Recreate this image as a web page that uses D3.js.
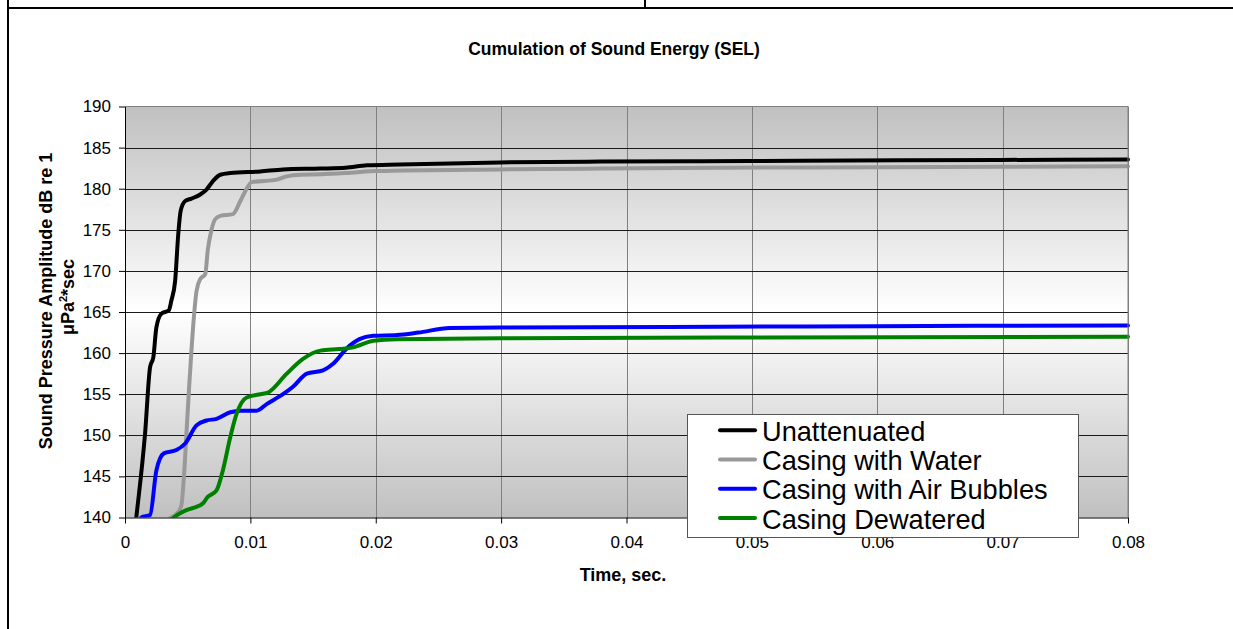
<!DOCTYPE html>
<html>
<head>
<meta charset="utf-8">
<script src="https://cdn.jsdelivr.net/npm/d3@7"></script>
<style>
  html, body { margin: 0; padding: 0; background: #fff; }
  svg { display: block; font-family: "Liberation Sans", Arial, sans-serif; }
</style>
</head>
<body>
<svg id="chart" width="1233" height="629"></svg>
<script>
// ---------- DATA ----------
const chartTitle = "Cumulation of Sound Energy (SEL)";
const xTitle = "Time, sec.";
const yTitleLine1 = "Sound Pressure Amplitude dB re 1";
const seriesNames = ["Unattenuated", "Casing with Water", "Casing with Air Bubbles", "Casing Dewatered"];
const seriesColors = ["#000000", "#999999", "#0000ff", "#008000"];
const xTicks = [0, 0.01, 0.02, 0.03, 0.04, 0.05, 0.06, 0.07, 0.08];
const yTicks = [140, 145, 150, 155, 160, 165, 170, 175, 180, 185, 190];

const unattenuatedT = [0.0006, 0.0009, 0.0016, 0.0020, 0.00226, 0.0025, 0.0029, 0.0035, 0.0037, 0.0040, 0.00425, 0.00444, 0.0048, 0.0053, 0.0060, 0.0065, 0.0070, 0.0076, 0.0084, 0.0108, 0.0126, 0.0156, 0.0176, 0.0193, 0.0219, 0.0299, 0.0379, 0.0459, 0.0538, 0.0618, 0.0698, 0.0800];
const unattenuatedV = [136.0, 140.0, 150.2, 158.3, 159.5, 163.1, 164.8, 165.2, 166.4, 168.8, 174.5, 177.3, 178.5, 178.8, 179.3, 179.9, 180.9, 181.7, 181.9, 182.1, 182.35, 182.45, 182.55, 182.85, 182.95, 183.2, 183.3, 183.35, 183.4, 183.45, 183.5, 183.55];

const waterT = [0.0030, 0.0035, 0.0042, 0.0045, 0.0047, 0.0049, 0.0051, 0.0053, 0.0055, 0.0057, 0.0060, 0.0064, 0.0066, 0.0069, 0.0072, 0.0076, 0.0086, 0.0092, 0.0097, 0.0101, 0.0121, 0.0129, 0.0140, 0.0156, 0.0180, 0.0200, 0.0299, 0.0379, 0.0475, 0.0600, 0.0700, 0.0800];
const waterV = [138.8, 139.8, 140.6, 141.5, 145.0, 150.2, 155.5, 160.3, 164.5, 167.5, 169.0, 169.6, 172.5, 175.0, 176.3, 176.7, 176.9, 178.5, 180.0, 180.8, 181.1, 181.5, 181.7, 181.75, 181.95, 182.15, 182.35, 182.45, 182.55, 182.62, 182.68, 182.72];

const bubblesT = [0.0010, 0.0013, 0.0020, 0.0025, 0.0031, 0.0041, 0.0048, 0.0057, 0.0065, 0.0073, 0.0084, 0.0092, 0.0105, 0.0113, 0.0126, 0.0134, 0.0145, 0.0158, 0.0166, 0.0177, 0.0187, 0.0198, 0.0217, 0.0234, 0.0259, 0.0299, 0.0475, 0.0600, 0.0800];
const bubblesV = [138.5, 140.0, 140.3, 145.7, 147.8, 148.2, 149.0, 151.2, 151.8, 152.0, 152.8, 153.0, 153.0, 153.8, 155.0, 155.9, 157.5, 157.9, 158.7, 160.6, 161.7, 162.1, 162.2, 162.5, 163.05, 163.1, 163.2, 163.28, 163.35];

const dewateredT = [0.0036, 0.0039, 0.0049, 0.0057, 0.0062, 0.0066, 0.0073, 0.0078, 0.0084, 0.0089, 0.0097, 0.0108, 0.0114, 0.0129, 0.0142, 0.0156, 0.0171, 0.0182, 0.0198, 0.0217, 0.0300, 0.0475, 0.0800];
const dewateredV = [139.5, 140.0, 140.9, 141.3, 141.7, 142.5, 143.3, 145.7, 149.8, 152.6, 154.6, 155.0, 155.2, 157.5, 159.3, 160.3, 160.5, 160.7, 161.5, 161.7, 161.8, 161.9, 162.0];

const seriesT = [unattenuatedT, waterT, bubblesT, dewateredT];
const seriesV = [unattenuatedV, waterV, bubblesV, dewateredV];

// ---------- LAYOUT ----------
const svg = d3.select("#chart");
const plot = { left: 125, right: 1128, top: 106.5, bottom: 517.5 };

const x = d3.scaleLinear().domain([0, 0.08]).range([plot.left, plot.right]);
const y = d3.scaleLinear().domain([140, 190]).range([plot.bottom, plot.top]);

// outer frame
svg.append("line").attr("x1", 8).attr("x2", 1233).attr("y1", 8).attr("y2", 8).attr("stroke", "#000").attr("stroke-width", 2);
svg.append("line").attr("x1", 8).attr("x2", 8).attr("y1", 0).attr("y2", 629).attr("stroke", "#000").attr("stroke-width", 2);
svg.append("line").attr("x1", 645).attr("x2", 645).attr("y1", 0).attr("y2", 8).attr("stroke", "#000").attr("stroke-width", 2);

// background gradient
const defs = svg.append("defs");
const grad = defs.append("linearGradient").attr("id", "bg").attr("x1", 0).attr("x2", 0).attr("y1", 0).attr("y2", 1);
grad.append("stop").attr("offset", "0%").attr("stop-color", "#c0c0c0");
grad.append("stop").attr("offset", "50%").attr("stop-color", "#ffffff");
grad.append("stop").attr("offset", "100%").attr("stop-color", "#c0c0c0");
defs.append("clipPath").attr("id", "clip").append("rect")
  .attr("x", plot.left).attr("y", plot.top - 5).attr("width", plot.right - plot.left + 5).attr("height", plot.bottom - plot.top + 5);

svg.append("rect").attr("x", plot.left).attr("y", plot.top)
  .attr("width", plot.right - plot.left).attr("height", plot.bottom - plot.top)
  .attr("fill", "url(#bg)");

// vertical gridlines
svg.append("g").selectAll("line").data(xTicks.slice(1)).join("line")
  .attr("x1", d => Math.round(x(d)) + 0.5).attr("x2", d => Math.round(x(d)) + 0.5)
  .attr("y1", plot.top).attr("y2", plot.bottom)
  .attr("stroke", "#808080").attr("stroke-width", 1);
// horizontal gridlines
svg.append("g").selectAll("line").data(yTicks.slice(1, -1)).join("line")
  .attr("x1", plot.left).attr("x2", plot.right)
  .attr("y1", d => Math.round(y(d)) + 0.5).attr("y2", d => Math.round(y(d)) + 0.5)
  .attr("stroke", "#1a1a1a").attr("stroke-width", 1);
// top border
svg.append("line").attr("x1", plot.left).attr("x2", plot.right).attr("y1", plot.top).attr("y2", plot.top)
  .attr("stroke", "#808080").attr("stroke-width", 1);

// series lines
const line = d3.line().x(d => x(d[0])).y(d => y(d[1])).curve(d3.curveMonotoneX);
const lg = svg.append("g").attr("clip-path", "url(#clip)");
seriesNames.forEach((name, i) => {
  const pts = seriesT[i].map((t, j) => [t, seriesV[i][j]]);
  lg.append("path").datum(pts).attr("d", line)
    .attr("fill", "none").attr("stroke", seriesColors[i]).attr("stroke-width", 4)
    .attr("stroke-linejoin", "round").attr("stroke-linecap", "round");
});

// axes
const yAxis = d3.axisLeft(y).tickValues(yTicks).tickSize(6).tickPadding(8).tickSizeOuter(0);
const gy = svg.append("g").attr("transform", `translate(${plot.left},0)`).call(yAxis);
gy.selectAll("text").attr("font-size", 17).attr("font-family", "Liberation Sans, Arial, sans-serif").attr("fill", "#000");
gy.selectAll("line, path").attr("stroke", "#000");

const xAxis = d3.axisBottom(x).tickValues(xTicks).tickSize(6).tickPadding(12).tickSizeOuter(0)
  .tickFormat(d => d === 0 ? "0" : d3.format(".2f")(d));
const gx = svg.append("g").attr("transform", `translate(0,${plot.bottom})`).call(xAxis);
gx.selectAll("text").attr("font-size", 17).attr("font-family", "Liberation Sans, Arial, sans-serif").attr("fill", "#000");
gx.selectAll("line, path").attr("stroke", "#000");

// right border (gray)
svg.append("line").attr("x1", plot.right).attr("x2", plot.right).attr("y1", plot.top).attr("y2", plot.bottom)
  .attr("stroke", "#808080").attr("stroke-width", 1);

// titles
svg.append("text").attr("x", 614).attr("y", 55).attr("text-anchor", "middle")
  .attr("font-size", 17.5).attr("font-weight", "bold").text(chartTitle);
svg.append("text").attr("x", 623).attr("y", 581).attr("text-anchor", "middle")
  .attr("font-size", 18).attr("font-weight", "bold").text(xTitle);

const yt = svg.append("g").attr("transform", "rotate(-90)");
yt.append("text").attr("x", -301).attr("y", 52).attr("text-anchor", "middle")
  .attr("font-size", 18).attr("font-weight", "bold").text(yTitleLine1);
const l2 = yt.append("text").attr("x", -297).attr("y", 74).attr("text-anchor", "middle")
  .attr("font-size", 18).attr("font-weight", "bold");
l2.append("tspan").text("μPa");
l2.append("tspan").attr("font-size", 11).attr("dy", -7).text("2");
l2.append("tspan").attr("dy", 7).text("*sec");

// legend
const legend = { x: 687, y: 414, w: 391, h: 123 };
const lgd = svg.append("g");
lgd.append("rect").attr("x", legend.x + 0.5).attr("y", legend.y + 0.5).attr("width", legend.w).attr("height", legend.h)
  .attr("fill", "#fff").attr("stroke", "#555").attr("stroke-width", 1);
seriesNames.forEach((name, i) => {
  const by = 440.7 + i * 29.3;
  lgd.append("line").attr("x1", 720).attr("x2", 755).attr("y1", by - 10.5).attr("y2", by - 10.5)
    .attr("stroke", seriesColors[i]).attr("stroke-width", 4).attr("stroke-linecap", "round");
  lgd.append("text").attr("x", 762).attr("y", by).attr("font-size", 27.2).attr("fill", "#000").text(name);
});
</script>
</body>
</html>
